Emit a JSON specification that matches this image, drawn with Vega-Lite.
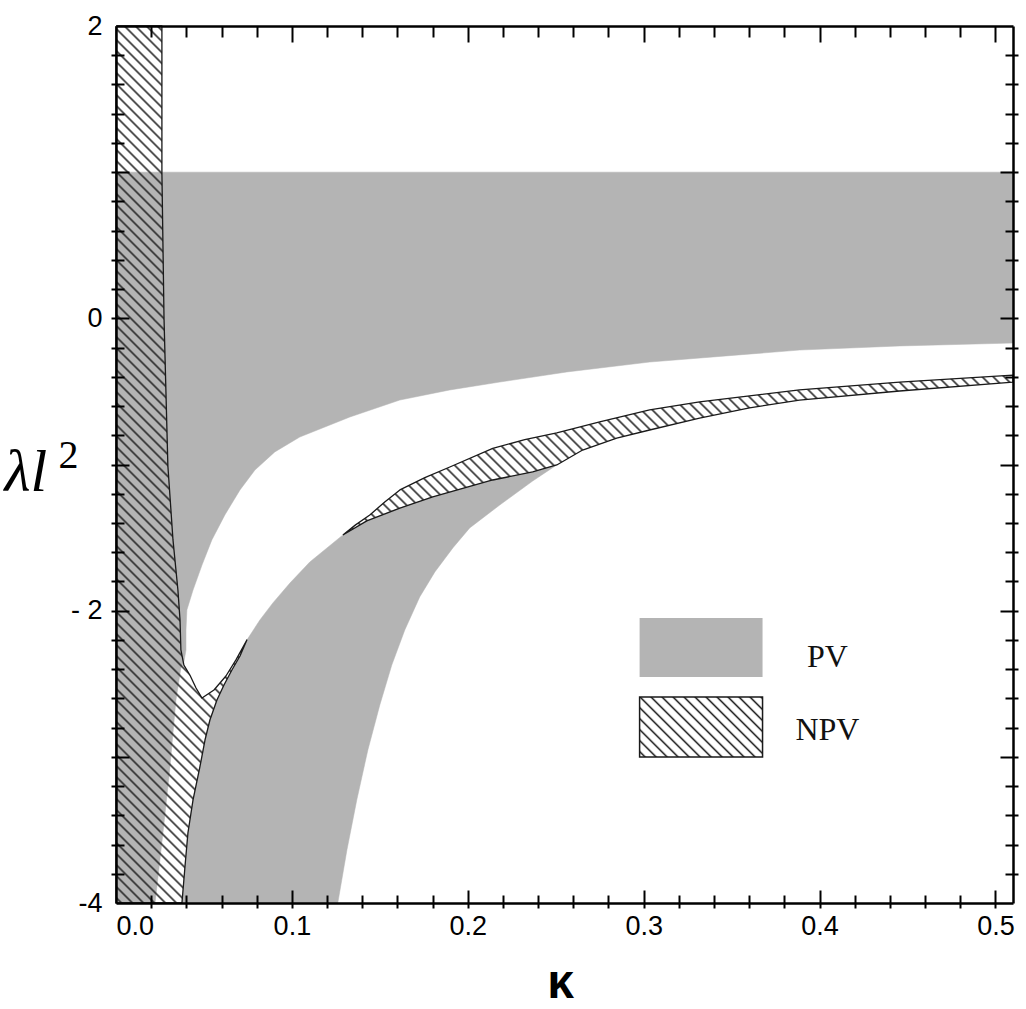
{
  "$schema": "https://vega.github.io/schema/vega-lite/v6.json",
  "width": 897,
  "height": 877,
  "autosize": {"type": "none"},
  "padding": {"left": 116, "top": 26, "right": 13, "bottom": 106},
  "background": "white",
  "config": {
    "view": {"stroke": null},
    "axis": {"grid": false, "zindex": 2, "domainColor": "#000", "tickColor": "#000", "labelColor": "#000", "titleColor": "#000"}
  },
  "params": [
    {"name": "hs", "value": [
      {"offset":0.003,"color":"#2220"},{"offset":0.005,"color":"#222"},{"offset":0.007,"color":"#2220"},
      {"offset":0.013,"color":"#2220"},{"offset":0.015,"color":"#222"},{"offset":0.017,"color":"#2220"},
      {"offset":0.023,"color":"#2220"},{"offset":0.025,"color":"#222"},{"offset":0.027,"color":"#2220"},
      {"offset":0.033,"color":"#2220"},{"offset":0.035,"color":"#222"},{"offset":0.037,"color":"#2220"},
      {"offset":0.043,"color":"#2220"},{"offset":0.045,"color":"#222"},{"offset":0.047,"color":"#2220"},
      {"offset":0.053,"color":"#2220"},{"offset":0.055,"color":"#222"},{"offset":0.057,"color":"#2220"},
      {"offset":0.063,"color":"#2220"},{"offset":0.065,"color":"#222"},{"offset":0.067,"color":"#2220"},
      {"offset":0.073,"color":"#2220"},{"offset":0.075,"color":"#222"},{"offset":0.077,"color":"#2220"},
      {"offset":0.083,"color":"#2220"},{"offset":0.085,"color":"#222"},{"offset":0.087,"color":"#2220"},
      {"offset":0.093,"color":"#2220"},{"offset":0.095,"color":"#222"},{"offset":0.097,"color":"#2220"},
      {"offset":0.103,"color":"#2220"},{"offset":0.105,"color":"#222"},{"offset":0.107,"color":"#2220"},
      {"offset":0.113,"color":"#2220"},{"offset":0.115,"color":"#222"},{"offset":0.117,"color":"#2220"},
      {"offset":0.123,"color":"#2220"},{"offset":0.125,"color":"#222"},{"offset":0.127,"color":"#2220"},
      {"offset":0.133,"color":"#2220"},{"offset":0.135,"color":"#222"},{"offset":0.137,"color":"#2220"},
      {"offset":0.143,"color":"#2220"},{"offset":0.145,"color":"#222"},{"offset":0.147,"color":"#2220"},
      {"offset":0.153,"color":"#2220"},{"offset":0.155,"color":"#222"},{"offset":0.157,"color":"#2220"},
      {"offset":0.163,"color":"#2220"},{"offset":0.165,"color":"#222"},{"offset":0.167,"color":"#2220"},
      {"offset":0.173,"color":"#2220"},{"offset":0.175,"color":"#222"},{"offset":0.177,"color":"#2220"},
      {"offset":0.183,"color":"#2220"},{"offset":0.185,"color":"#222"},{"offset":0.187,"color":"#2220"},
      {"offset":0.193,"color":"#2220"},{"offset":0.195,"color":"#222"},{"offset":0.197,"color":"#2220"},
      {"offset":0.203,"color":"#2220"},{"offset":0.205,"color":"#222"},{"offset":0.207,"color":"#2220"},
      {"offset":0.213,"color":"#2220"},{"offset":0.215,"color":"#222"},{"offset":0.217,"color":"#2220"},
      {"offset":0.223,"color":"#2220"},{"offset":0.225,"color":"#222"},{"offset":0.227,"color":"#2220"},
      {"offset":0.233,"color":"#2220"},{"offset":0.235,"color":"#222"},{"offset":0.237,"color":"#2220"},
      {"offset":0.243,"color":"#2220"},{"offset":0.245,"color":"#222"},{"offset":0.247,"color":"#2220"},
      {"offset":0.253,"color":"#2220"},{"offset":0.255,"color":"#222"},{"offset":0.257,"color":"#2220"},
      {"offset":0.263,"color":"#2220"},{"offset":0.265,"color":"#222"},{"offset":0.267,"color":"#2220"},
      {"offset":0.273,"color":"#2220"},{"offset":0.275,"color":"#222"},{"offset":0.277,"color":"#2220"},
      {"offset":0.283,"color":"#2220"},{"offset":0.285,"color":"#222"},{"offset":0.287,"color":"#2220"},
      {"offset":0.293,"color":"#2220"},{"offset":0.295,"color":"#222"},{"offset":0.297,"color":"#2220"},
      {"offset":0.303,"color":"#2220"},{"offset":0.305,"color":"#222"},{"offset":0.307,"color":"#2220"},
      {"offset":0.313,"color":"#2220"},{"offset":0.315,"color":"#222"},{"offset":0.317,"color":"#2220"},
      {"offset":0.323,"color":"#2220"},{"offset":0.325,"color":"#222"},{"offset":0.327,"color":"#2220"},
      {"offset":0.333,"color":"#2220"},{"offset":0.335,"color":"#222"},{"offset":0.337,"color":"#2220"},
      {"offset":0.343,"color":"#2220"},{"offset":0.345,"color":"#222"},{"offset":0.347,"color":"#2220"},
      {"offset":0.353,"color":"#2220"},{"offset":0.355,"color":"#222"},{"offset":0.357,"color":"#2220"},
      {"offset":0.363,"color":"#2220"},{"offset":0.365,"color":"#222"},{"offset":0.367,"color":"#2220"},
      {"offset":0.373,"color":"#2220"},{"offset":0.375,"color":"#222"},{"offset":0.377,"color":"#2220"},
      {"offset":0.383,"color":"#2220"},{"offset":0.385,"color":"#222"},{"offset":0.387,"color":"#2220"},
      {"offset":0.393,"color":"#2220"},{"offset":0.395,"color":"#222"},{"offset":0.397,"color":"#2220"},
      {"offset":0.403,"color":"#2220"},{"offset":0.405,"color":"#222"},{"offset":0.407,"color":"#2220"},
      {"offset":0.413,"color":"#2220"},{"offset":0.415,"color":"#222"},{"offset":0.417,"color":"#2220"},
      {"offset":0.423,"color":"#2220"},{"offset":0.425,"color":"#222"},{"offset":0.427,"color":"#2220"},
      {"offset":0.433,"color":"#2220"},{"offset":0.435,"color":"#222"},{"offset":0.437,"color":"#2220"},
      {"offset":0.443,"color":"#2220"},{"offset":0.445,"color":"#222"},{"offset":0.447,"color":"#2220"},
      {"offset":0.453,"color":"#2220"},{"offset":0.455,"color":"#222"},{"offset":0.457,"color":"#2220"},
      {"offset":0.463,"color":"#2220"},{"offset":0.465,"color":"#222"},{"offset":0.467,"color":"#2220"},
      {"offset":0.473,"color":"#2220"},{"offset":0.475,"color":"#222"},{"offset":0.477,"color":"#2220"},
      {"offset":0.483,"color":"#2220"},{"offset":0.485,"color":"#222"},{"offset":0.487,"color":"#2220"},
      {"offset":0.493,"color":"#2220"},{"offset":0.495,"color":"#222"},{"offset":0.497,"color":"#2220"},
      {"offset":0.503,"color":"#2220"},{"offset":0.505,"color":"#222"},{"offset":0.507,"color":"#2220"},
      {"offset":0.513,"color":"#2220"},{"offset":0.515,"color":"#222"},{"offset":0.517,"color":"#2220"},
      {"offset":0.523,"color":"#2220"},{"offset":0.525,"color":"#222"},{"offset":0.527,"color":"#2220"},
      {"offset":0.533,"color":"#2220"},{"offset":0.535,"color":"#222"},{"offset":0.537,"color":"#2220"},
      {"offset":0.543,"color":"#2220"},{"offset":0.545,"color":"#222"},{"offset":0.547,"color":"#2220"},
      {"offset":0.553,"color":"#2220"},{"offset":0.555,"color":"#222"},{"offset":0.557,"color":"#2220"},
      {"offset":0.563,"color":"#2220"},{"offset":0.565,"color":"#222"},{"offset":0.567,"color":"#2220"},
      {"offset":0.573,"color":"#2220"},{"offset":0.575,"color":"#222"},{"offset":0.577,"color":"#2220"},
      {"offset":0.583,"color":"#2220"},{"offset":0.585,"color":"#222"},{"offset":0.587,"color":"#2220"},
      {"offset":0.593,"color":"#2220"},{"offset":0.595,"color":"#222"},{"offset":0.597,"color":"#2220"},
      {"offset":0.603,"color":"#2220"},{"offset":0.605,"color":"#222"},{"offset":0.607,"color":"#2220"},
      {"offset":0.613,"color":"#2220"},{"offset":0.615,"color":"#222"},{"offset":0.617,"color":"#2220"},
      {"offset":0.623,"color":"#2220"},{"offset":0.625,"color":"#222"},{"offset":0.627,"color":"#2220"},
      {"offset":0.633,"color":"#2220"},{"offset":0.635,"color":"#222"},{"offset":0.637,"color":"#2220"},
      {"offset":0.643,"color":"#2220"},{"offset":0.645,"color":"#222"},{"offset":0.647,"color":"#2220"},
      {"offset":0.653,"color":"#2220"},{"offset":0.655,"color":"#222"},{"offset":0.657,"color":"#2220"},
      {"offset":0.663,"color":"#2220"},{"offset":0.665,"color":"#222"},{"offset":0.667,"color":"#2220"},
      {"offset":0.673,"color":"#2220"},{"offset":0.675,"color":"#222"},{"offset":0.677,"color":"#2220"},
      {"offset":0.683,"color":"#2220"},{"offset":0.685,"color":"#222"},{"offset":0.687,"color":"#2220"},
      {"offset":0.693,"color":"#2220"},{"offset":0.695,"color":"#222"},{"offset":0.697,"color":"#2220"},
      {"offset":0.703,"color":"#2220"},{"offset":0.705,"color":"#222"},{"offset":0.707,"color":"#2220"},
      {"offset":0.713,"color":"#2220"},{"offset":0.715,"color":"#222"},{"offset":0.717,"color":"#2220"},
      {"offset":0.723,"color":"#2220"},{"offset":0.725,"color":"#222"},{"offset":0.727,"color":"#2220"},
      {"offset":0.733,"color":"#2220"},{"offset":0.735,"color":"#222"},{"offset":0.737,"color":"#2220"},
      {"offset":0.743,"color":"#2220"},{"offset":0.745,"color":"#222"},{"offset":0.747,"color":"#2220"},
      {"offset":0.753,"color":"#2220"},{"offset":0.755,"color":"#222"},{"offset":0.757,"color":"#2220"},
      {"offset":0.763,"color":"#2220"},{"offset":0.765,"color":"#222"},{"offset":0.767,"color":"#2220"},
      {"offset":0.773,"color":"#2220"},{"offset":0.775,"color":"#222"},{"offset":0.777,"color":"#2220"},
      {"offset":0.783,"color":"#2220"},{"offset":0.785,"color":"#222"},{"offset":0.787,"color":"#2220"},
      {"offset":0.793,"color":"#2220"},{"offset":0.795,"color":"#222"},{"offset":0.797,"color":"#2220"},
      {"offset":0.803,"color":"#2220"},{"offset":0.805,"color":"#222"},{"offset":0.807,"color":"#2220"},
      {"offset":0.813,"color":"#2220"},{"offset":0.815,"color":"#222"},{"offset":0.817,"color":"#2220"},
      {"offset":0.823,"color":"#2220"},{"offset":0.825,"color":"#222"},{"offset":0.827,"color":"#2220"},
      {"offset":0.833,"color":"#2220"},{"offset":0.835,"color":"#222"},{"offset":0.837,"color":"#2220"},
      {"offset":0.843,"color":"#2220"},{"offset":0.845,"color":"#222"},{"offset":0.847,"color":"#2220"},
      {"offset":0.853,"color":"#2220"},{"offset":0.855,"color":"#222"},{"offset":0.857,"color":"#2220"},
      {"offset":0.863,"color":"#2220"},{"offset":0.865,"color":"#222"},{"offset":0.867,"color":"#2220"},
      {"offset":0.873,"color":"#2220"},{"offset":0.875,"color":"#222"},{"offset":0.877,"color":"#2220"},
      {"offset":0.883,"color":"#2220"},{"offset":0.885,"color":"#222"},{"offset":0.887,"color":"#2220"},
      {"offset":0.893,"color":"#2220"},{"offset":0.895,"color":"#222"},{"offset":0.897,"color":"#2220"},
      {"offset":0.903,"color":"#2220"},{"offset":0.905,"color":"#222"},{"offset":0.907,"color":"#2220"},
      {"offset":0.913,"color":"#2220"},{"offset":0.915,"color":"#222"},{"offset":0.917,"color":"#2220"}
    ]}
  ],
  "datasets": {
    "G1": [
      {"s":1,"k":0,"l":1},{"s":2,"k":0.51,"l":1},{"s":3,"k":0.51,"l":-0.169},{"s":4,"k":0.4455,"l":-0.189},
      {"s":5,"k":0.3886,"l":-0.217},{"s":6,"k":0.3034,"l":-0.299},{"s":7,"k":0.2563,"l":-0.367},{"s":8,"k":0.2182,"l":-0.436},
      {"s":9,"k":0.1898,"l":-0.49},{"s":10,"k":0.1614,"l":-0.559},{"s":11,"k":0.133,"l":-0.675},{"s":12,"k":0.1045,"l":-0.812},
      {"s":13,"k":0.0903,"l":-0.914},{"s":14,"k":0.079,"l":-1.038},{"s":15,"k":0.0705,"l":-1.174},{"s":16,"k":0.0619,"l":-1.345},
      {"s":17,"k":0.0545,"l":-1.516},{"s":18,"k":0.0489,"l":-1.688},{"s":19,"k":0.0438,"l":-1.859},{"s":20,"k":0.0403,"l":-1.995},
      {"s":21,"k":0.0398,"l":-2.132},{"s":22,"k":0.0398,"l":-2.269},{"s":23,"k":0.0386,"l":-2.351},{"s":24,"k":0.0369,"l":-2.392},
      {"s":25,"k":0.0341,"l":-2.611},{"s":26,"k":0.0324,"l":-2.837},{"s":27,"k":0.0307,"l":-3.069},{"s":28,"k":0.0267,"l":-3.521},
      {"s":29,"k":0.0222,"l":-4},{"s":30,"k":0,"l":-4}
    ],
    "G2": [
      {"s":1,"k":0.0375,"l":-4},{"s":2,"k":0.0392,"l":-3.754},{"s":3,"k":0.0409,"l":-3.521},{"s":4,"k":0.0438,"l":-3.295},
      {"s":5,"k":0.0477,"l":-3.069},{"s":6,"k":0.0506,"l":-2.885},{"s":7,"k":0.0534,"l":-2.748},{"s":8,"k":0.0574,"l":-2.611},
      {"s":9,"k":0.0614,"l":-2.509},{"s":10,"k":0.0659,"l":-2.406},{"s":11,"k":0.0705,"l":-2.31},{"s":12,"k":0.0744,"l":-2.201},
      {"s":13,"k":0.0818,"l":-2.064},{"s":14,"k":0.0892,"l":-1.947},{"s":15,"k":0.0989,"l":-1.811},{"s":16,"k":0.1102,"l":-1.667},
      {"s":17,"k":0.129,"l":-1.482},{"s":18,"k":0.1426,"l":-1.386},{"s":19,"k":0.1614,"l":-1.298},{"s":20,"k":0.1801,"l":-1.222},
      {"s":21,"k":0.2142,"l":-1.106},{"s":22,"k":0.2369,"l":-1.051},{"s":23,"k":0.2506,"l":-1.003},{"s":24,"k":0.2369,"l":-1.113},
      {"s":25,"k":0.2182,"l":-1.277},{"s":26,"k":0.2011,"l":-1.434},{"s":27,"k":0.1915,"l":-1.571},{"s":28,"k":0.1813,"l":-1.735},
      {"s":29,"k":0.1727,"l":-1.906},{"s":30,"k":0.1642,"l":-2.132},{"s":31,"k":0.1568,"l":-2.372},{"s":32,"k":0.15,"l":-2.645},
      {"s":33,"k":0.1432,"l":-2.953},{"s":34,"k":0.1369,"l":-3.295},{"s":35,"k":0.1313,"l":-3.637},{"s":36,"k":0.1261,"l":-4}
    ],
    "N1": [
      {"s":1,"k":0,"l":2},{"s":2,"k":0.0261,"l":2},{"s":3,"k":0.0261,"l":1},{"s":4,"k":0.0273,"l":0},
      {"s":5,"k":0.0295,"l":-1.01},{"s":6,"k":0.0324,"l":-1.516},{"s":7,"k":0.0352,"l":-1.859},{"s":8,"k":0.0364,"l":-2.064},
      {"s":9,"k":0.0369,"l":-2.269},{"s":10,"k":0.0386,"l":-2.372},{"s":11,"k":0.042,"l":-2.44},{"s":12,"k":0.0455,"l":-2.529},
      {"s":13,"k":0.0489,"l":-2.598},{"s":14,"k":0.0557,"l":-2.543},{"s":15,"k":0.0625,"l":-2.447},{"s":16,"k":0.0682,"l":-2.337},
      {"s":17,"k":0.0744,"l":-2.201},{"s":18,"k":0.0705,"l":-2.31},{"s":19,"k":0.0659,"l":-2.406},{"s":20,"k":0.0614,"l":-2.509},
      {"s":21,"k":0.0574,"l":-2.611},{"s":22,"k":0.0534,"l":-2.748},{"s":23,"k":0.0506,"l":-2.885},{"s":24,"k":0.0477,"l":-3.069},
      {"s":25,"k":0.0438,"l":-3.295},{"s":26,"k":0.0409,"l":-3.521},{"s":27,"k":0.0392,"l":-3.754},{"s":28,"k":0.0375,"l":-4},
      {"s":29,"k":0,"l":-4},{"s":30,"k":0,"l":2}
    ],
    "N2": [
      {"s":1,"k":0.129,"l":-1.482},{"s":2,"k":0.1362,"l":-1.413},{"s":3,"k":0.1443,"l":-1.345},{"s":4,"k":0.1528,"l":-1.257},
      {"s":5,"k":0.1614,"l":-1.174},{"s":6,"k":0.1756,"l":-1.09},{"s":7,"k":0.1898,"l":-1.017},{"s":8,"k":0.2142,"l":-0.89},
      {"s":9,"k":0.2324,"l":-0.83},{"s":10,"k":0.2506,"l":-0.784},{"s":11,"k":0.275,"l":-0.709},{"s":12,"k":0.3034,"l":-0.627},
      {"s":13,"k":0.3318,"l":-0.572},{"s":14,"k":0.3602,"l":-0.531},{"s":15,"k":0.3886,"l":-0.49},{"s":16,"k":0.4455,"l":-0.436},
      {"s":17,"k":0.51,"l":-0.388},{"s":18,"k":0.51,"l":-0.436},{"s":19,"k":0.4455,"l":-0.497},{"s":20,"k":0.3886,"l":-0.559},
      {"s":21,"k":0.3602,"l":-0.613},{"s":22,"k":0.3318,"l":-0.682},{"s":23,"k":0.3034,"l":-0.764},{"s":24,"k":0.2847,"l":-0.819},
      {"s":25,"k":0.2653,"l":-0.901},{"s":26,"k":0.2506,"l":-1.003},{"s":27,"k":0.2369,"l":-1.051},{"s":28,"k":0.2142,"l":-1.106},
      {"s":29,"k":0.1801,"l":-1.222},{"s":30,"k":0.1614,"l":-1.298},{"s":31,"k":0.1426,"l":-1.386},{"s":32,"k":0.129,"l":-1.482}
    ],
    "legend": [
      {"lab":"PV","k1":0.2977,"k2":0.3676,"l1":-2.05,"l2":-2.454,"kt":0.4045,"lt":-2.317},
      {"lab":"NPV","k1":0.2977,"k2":0.3676,"l1":-2.591,"l2":-3.001,"kt":0.4045,"lt":-2.816}
    ]
  },
  "resolve": {"scale": {"x": "shared", "y": "shared"}, "axis": {"x": "independent", "y": "independent"}},
  "layer": [
    {
      "data": {"name": "G1"},
      "mark": {"type": "line", "fill": "#b4b4b4", "stroke": "#b4b4b4", "strokeWidth": 0.5, "interpolate": "linear"},
      "encoding": {
        "x": {"field": "k", "type": "quantitative", "scale": {"domain": [0, 0.51], "nice": false, "zero": false},
          "axis": {"orient": "bottom", "zindex": 2, "values": [0, 0.1, 0.2, 0.3, 0.4, 0.5], "format": ".1f", "ticks": false, "tickSize": 0,
            "domain": true, "domainWidth": 2.5, "labelFont": "Liberation Sans", "labelFontSize": 27, "labelPadding": 10,
            "labelFlush": true, "labelOverlap": false, "labelBound": false,
            "title": "κ", "titleFont": "Liberation Sans", "titleFontWeight": "bold", "titleFontSize": 48,
            "titleAlign": "center", "titleBaseline": "bottom", "titleX": 444, "titleY": 104}},
        "y": {"field": "l", "type": "quantitative", "scale": {"domain": [-4, 2], "nice": false, "zero": false},
          "axis": {"orient": "left", "zindex": 2, "values": [-4, -2, 0, 2], "ticks": false, "tickSize": 0,
            "domain": true, "domainWidth": 2.5,
            "labelExpr": "datum.value == -2 ? '- 2' : datum.value == -4 ? '-4' : datum.value == 0 ? '0' : '2'",
            "labelFont": "Liberation Sans", "labelFontSize": 27, "labelPadding": 14, "labelFlush": false, "labelOverlap": false, "labelBound": false,
            "title": "λl", "titleFont": "Liberation Serif", "titleFontStyle": "italic", "titleFontWeight": "normal", "titleFontSize": 60,
            "titleAngle": 0, "titleAlign": "left", "titleBaseline": "alphabetic", "titleX": -112, "titleY": 464}},
        "order": {"field": "s", "type": "quantitative"}
      }
    },
    {
      "data": {"name": "G2"},
      "mark": {"type": "line", "fill": "#b4b4b4", "stroke": "#b4b4b4", "strokeWidth": 0.5, "interpolate": "linear"},
      "encoding": {
        "x": {"field": "k", "type": "quantitative", "scale": {"domain": [0, 0.51], "nice": false, "zero": false},
          "axis": {"orient": "top", "zindex": 2, "values": [0.1], "ticks": false, "domain": true, "domainWidth": 2.5, "labels": false, "title": null}},
        "y": {"field": "l", "type": "quantitative", "scale": {"domain": [-4, 2], "nice": false, "zero": false},
          "axis": {"orient": "right", "zindex": 2, "values": [0], "ticks": false, "domain": true, "domainWidth": 2.5, "labels": false, "title": null}},
        "order": {"field": "s", "type": "quantitative"}
      }
    },
    {
      "data": {"name": "N1"},
      "mark": {"type": "line", "fill": {"expr": "{gradient: 'linear', x1: 0, y1: 1, x2: 0.1833, y2: -0.2269, stops: hs}"},
        "stroke": "#1a1a1a", "strokeWidth": 1.3, "strokeJoin": "round", "interpolate": "linear"},
      "encoding": {
        "x": {"field": "k", "type": "quantitative", "scale": {"domain": [0, 0.51], "nice": false, "zero": false},
          "axis": {"orient": "bottom", "zindex": 2, "values": [0.1, 0.2, 0.3, 0.4, 0.5], "offset": -13, "ticks": true, "tickSize": 18, "tickWidth": 2,
            "tickColor": "#000", "tickOpacity": 1, "domain": false, "labels": false, "title": null}},
        "y": {"field": "l", "type": "quantitative", "scale": {"domain": [-4, 2], "nice": false, "zero": false},
          "axis": {"orient": "left", "zindex": 2, "values": [-3, -2, -1, 0, 1], "offset": -13, "ticks": true, "tickSize": 18, "tickWidth": 2,
            "tickColor": "#000", "tickOpacity": 1, "domain": false, "labels": false, "title": null}},
        "order": {"field": "s", "type": "quantitative"}
      }
    },
    {
      "data": {"name": "N2"},
      "mark": {"type": "line", "fill": {"expr": "{gradient: 'linear', x1: 0, y1: 1, x2: 1.5532, y2: 0.6291, stops: hs}"},
        "stroke": "#1a1a1a", "strokeWidth": 1.3, "strokeJoin": "round", "interpolate": "linear"},
      "encoding": {
        "x": {"field": "k", "type": "quantitative", "scale": {"domain": [0, 0.51], "nice": false, "zero": false},
          "axis": {"orient": "top", "zindex": 2, "values": [0.1, 0.2, 0.3, 0.4, 0.5], "offset": -16, "ticks": true, "tickSize": 16, "tickWidth": 2,
            "tickColor": "#000", "tickOpacity": 1, "domain": false, "labels": false, "title": null}},
        "y": {"field": "l", "type": "quantitative", "scale": {"domain": [-4, 2], "nice": false, "zero": false},
          "axis": {"orient": "right", "zindex": 2, "values": [-3, -2, -1, 0, 1], "offset": -13, "ticks": true, "tickSize": 18, "tickWidth": 2,
            "tickColor": "#000", "tickOpacity": 1, "domain": false, "labels": false, "title": null}},
        "order": {"field": "s", "type": "quantitative"}
      }
    },
    {
      "data": {"name": "legend"},
      "transform": [{"filter": "datum.lab == 'PV'"}],
      "mark": {"type": "rect", "fill": "#b4b4b4"},
      "encoding": {
        "x": {"field": "k1", "type": "quantitative", "scale": {"domain": [0, 0.51], "nice": false, "zero": false},
          "axis": {"orient": "bottom", "zindex": 2, "values": [0.02, 0.04, 0.06, 0.08, 0.12, 0.14, 0.16, 0.18, 0.22, 0.24, 0.26, 0.28, 0.32, 0.34, 0.36, 0.38, 0.42, 0.44, 0.46, 0.48],
            "offset": -8, "ticks": true, "tickSize": 13, "tickWidth": 2, "tickColor": "#000", "tickOpacity": 1, "domain": false, "labels": false, "title": null}},
        "x2": {"field": "k2"},
        "y": {"field": "l1", "type": "quantitative", "scale": {"domain": [-4, 2], "nice": false, "zero": false},
          "axis": {"orient": "left", "zindex": 2, "values": [-3.8, -3.6, -3.4, -3.2, -2.8, -2.6, -2.4, -2.2, -1.8, -1.6, -1.4, -1.2, -0.8, -0.6, -0.4, -0.2, 0.2, 0.4, 0.6, 0.8, 1.2, 1.4, 1.6, 1.8],
            "offset": -8, "ticks": true, "tickSize": 13, "tickWidth": 2, "tickColor": "#000", "tickOpacity": 1, "domain": false, "labels": false, "title": null}},
        "y2": {"field": "l2"}
      }
    },
    {
      "data": {"name": "legend"},
      "transform": [{"filter": "datum.lab == 'NPV'"}],
      "mark": {"type": "rect", "fill": {"expr": "{gradient: 'linear', x1: 0, y1: 1, x2: 7.2241, y2: -2.524, stops: hs}"},
        "stroke": "#1a1a1a", "strokeWidth": 1.5},
      "encoding": {
        "x": {"field": "k1", "type": "quantitative", "scale": {"domain": [0, 0.51], "nice": false, "zero": false},
          "axis": {"orient": "top", "zindex": 2, "values": [0.02, 0.04, 0.06, 0.08, 0.12, 0.14, 0.16, 0.18, 0.22, 0.24, 0.26, 0.28, 0.32, 0.34, 0.36, 0.38, 0.42, 0.44, 0.46, 0.48],
            "offset": -11, "ticks": true, "tickSize": 11, "tickWidth": 2, "tickColor": "#000", "tickOpacity": 1, "domain": false, "labels": false, "title": null}},
        "x2": {"field": "k2"},
        "y": {"field": "l1", "type": "quantitative", "scale": {"domain": [-4, 2], "nice": false, "zero": false},
          "axis": {"orient": "right", "zindex": 2, "values": [-3.8, -3.6, -3.4, -3.2, -2.8, -2.6, -2.4, -2.2, -1.8, -1.6, -1.4, -1.2, -0.8, -0.6, -0.4, -0.2, 0.2, 0.4, 0.6, 0.8, 1.2, 1.4, 1.6, 1.8],
            "offset": -8, "ticks": true, "tickSize": 13, "tickWidth": 2, "tickColor": "#000", "tickOpacity": 1, "domain": false, "labels": false, "title": null}},
        "y2": {"field": "l2"}
      }
    },
    {
      "data": {"name": "legend"},
      "mark": {"type": "text", "font": "Liberation Serif", "fontSize": 32, "align": "center", "baseline": "middle", "color": "#111"},
      "encoding": {
        "x": {"field": "kt", "type": "quantitative", "scale": {"domain": [0, 0.51], "nice": false, "zero": false}, "axis": null},
        "y": {"field": "lt", "type": "quantitative", "scale": {"domain": [-4, 2], "nice": false, "zero": false},
          "axis": {"orient": "left", "zindex": 2, "values": [0], "ticks": false, "labels": false, "domain": false,
            "title": "2", "titleFont": "Liberation Serif", "titleFontSize": 40, "titleFontWeight": "normal",
            "titleAngle": 0, "titleAlign": "left", "titleBaseline": "alphabetic", "titleX": -58, "titleY": 441}},
        "text": {"field": "lab"}
      }
    }
  ]
}
